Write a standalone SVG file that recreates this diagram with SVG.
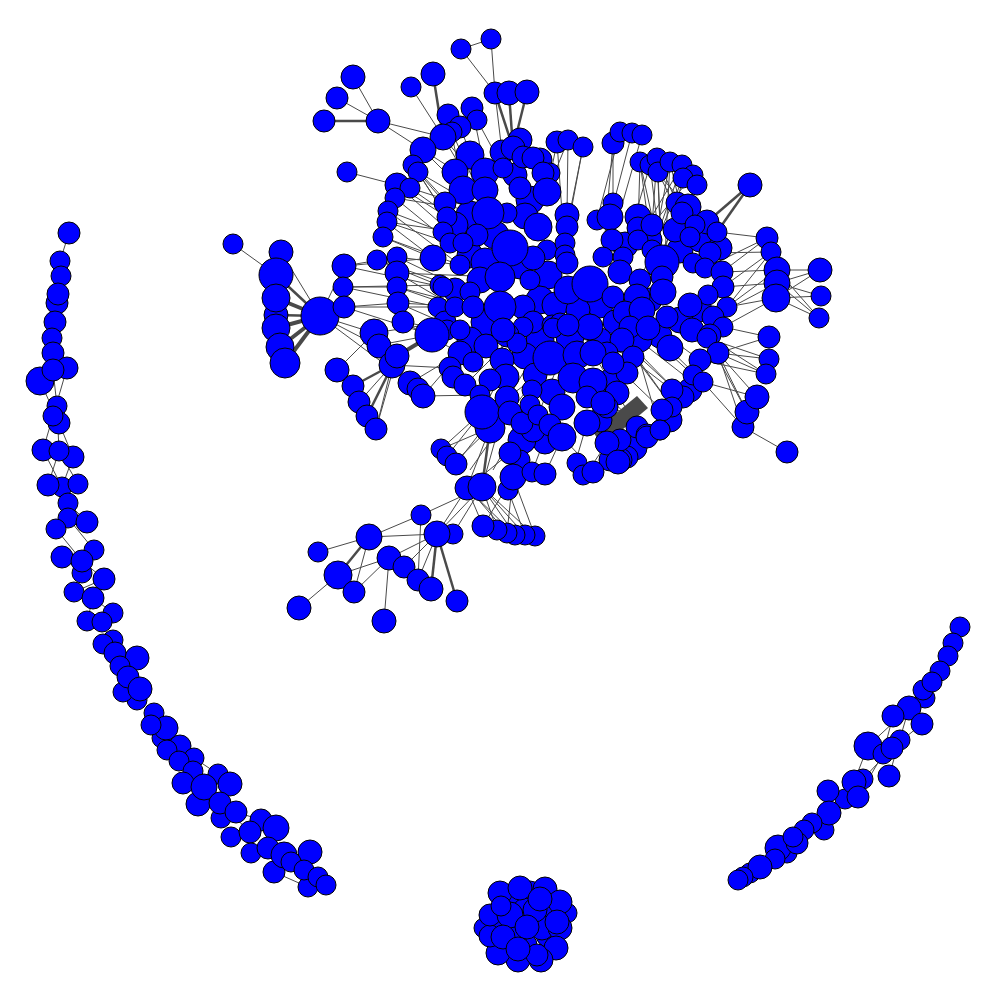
<svg xmlns="http://www.w3.org/2000/svg" width="1000" height="1000" viewBox="0 0 1000 1000">
<style>
circle{fill:#0000ff;stroke:#000;stroke-width:1}
#edges line{stroke:#4a4a4a;stroke-width:1}
#edges line.t{stroke-width:2.5}
#edges line.T{stroke-width:4}
#edges polygon{fill:#4a4a4a}
</style>
<rect width="1000" height="1000" fill="#fff"/>
<g id="edges">
<polygon points="593,432 637,396 648,408 603,446"/>
<line x1="69" y1="233" x2="60" y2="261"/><line x1="53" y1="370" x2="57" y2="406"/><line x1="40" y1="381" x2="59" y2="423"/><line x1="67" y1="368" x2="53" y2="416"/><line x1="53" y1="416" x2="43" y2="450"/><line x1="59" y1="423" x2="73" y2="457"/><line x1="57" y1="406" x2="59" y2="451"/><line x1="43" y1="450" x2="62" y2="487"/><line x1="59" y1="451" x2="48" y2="485"/><line x1="73" y1="457" x2="62" y2="487"/><line x1="59" y1="451" x2="78" y2="484"/><line x1="62" y1="487" x2="68" y2="518"/><line x1="68" y1="503" x2="87" y2="522"/><line x1="56" y1="529" x2="82" y2="561"/><line x1="68" y1="518" x2="94" y2="550"/><line x1="62" y1="557" x2="94" y2="550"/><line x1="62" y1="557" x2="82" y2="573"/><line x1="82" y1="561" x2="104" y2="579"/><line x1="74" y1="592" x2="104" y2="579"/><line x1="93" y1="598" x2="87" y2="621"/><line x1="93" y1="598" x2="113" y2="613"/><line x1="102" y1="622" x2="115" y2="653"/><line x1="115" y1="653" x2="137" y2="658"/><line x1="128" y1="677" x2="140" y2="689"/><line x1="166" y1="728" x2="180" y2="746"/><line x1="194" y1="758" x2="218" y2="774"/><line x1="220" y1="803" x2="250" y2="832"/><line x1="236" y1="812" x2="261" y2="820"/><line x1="261" y1="820" x2="284" y2="855"/><line x1="291" y1="862" x2="310" y2="852"/><line x1="274" y1="872" x2="308" y2="887"/>
<line x1="960" y1="627" x2="948" y2="656"/><line x1="909" y1="708" x2="868" y2="746"/><line x1="893" y1="716" x2="883" y2="754"/><line x1="922" y1="724" x2="892" y2="748"/><line x1="909" y1="708" x2="889" y2="776"/><line x1="868" y1="746" x2="854" y2="782"/><line x1="883" y1="754" x2="858" y2="797"/><line x1="892" y1="748" x2="863" y2="779"/><line x1="854" y1="782" x2="829" y2="813"/>
<line x1="233" y1="244" x2="276" y2="275"/><line x1="281" y1="252" x2="320" y2="316"/><line class="t" x1="276" y1="275" x2="320" y2="316"/><line class="T" x1="276" y1="298" x2="320" y2="316"/><line class="t" x1="276" y1="315" x2="320" y2="316"/><line class="T" x1="276" y1="328" x2="320" y2="316"/><line class="T" x1="280" y1="347" x2="320" y2="316"/><line class="T" x1="285" y1="363" x2="320" y2="316"/><line x1="320" y1="316" x2="344" y2="266"/><line x1="320" y1="316" x2="344" y2="307"/><line x1="320" y1="316" x2="374" y2="333"/><line x1="320" y1="316" x2="397" y2="356"/><line x1="320" y1="316" x2="410" y2="383"/>
<line x1="344" y1="266" x2="397" y2="257"/><line x1="344" y1="266" x2="433" y2="258"/><line x1="344" y1="266" x2="443" y2="287"/><line x1="343" y1="287" x2="397" y2="287"/><line x1="343" y1="287" x2="440" y2="285"/><line x1="343" y1="287" x2="438" y2="307"/><line x1="344" y1="307" x2="398" y2="303"/><line x1="344" y1="307" x2="438" y2="307"/><line x1="344" y1="307" x2="432" y2="335"/>
<line x1="347" y1="172" x2="397" y2="185"/><line x1="378" y1="121" x2="443" y2="137"/><line x1="378" y1="121" x2="423" y2="150"/><line class="t" x1="324" y1="121" x2="378" y2="121"/><line x1="337" y1="98" x2="378" y2="121"/><line x1="353" y1="77" x2="378" y2="121"/><line x1="411" y1="87" x2="443" y2="137"/><line class="t" x1="433" y1="74" x2="443" y2="137"/><line x1="461" y1="49" x2="491" y2="39"/><line x1="461" y1="49" x2="495" y2="93"/><line x1="491" y1="39" x2="495" y2="93"/><line class="t" x1="495" y1="93" x2="513" y2="148"/><line class="t" x1="509" y1="93" x2="513" y2="148"/><line class="t" x1="527" y1="92" x2="513" y2="148"/><line x1="495" y1="93" x2="502" y2="152"/>
<line x1="452" y1="132" x2="488" y2="213"/><line x1="460" y1="127" x2="485" y2="190"/><line x1="472" y1="108" x2="485" y2="170"/><line x1="448" y1="115" x2="463" y2="190"/><line x1="477" y1="120" x2="503" y2="168"/><line x1="443" y1="137" x2="488" y2="213"/><line x1="443" y1="137" x2="507" y2="213"/><line x1="423" y1="150" x2="485" y2="190"/><line x1="423" y1="150" x2="463" y2="190"/><line x1="418" y1="172" x2="488" y2="213"/><line x1="418" y1="172" x2="463" y2="243"/><line x1="413" y1="165" x2="477" y2="235"/><line x1="410" y1="188" x2="477" y2="235"/><line x1="410" y1="188" x2="488" y2="213"/><line x1="397" y1="185" x2="447" y2="217"/><line x1="397" y1="185" x2="463" y2="243"/><line x1="395" y1="198" x2="450" y2="243"/><line x1="395" y1="198" x2="488" y2="213"/><line x1="388" y1="211" x2="443" y2="232"/><line x1="388" y1="211" x2="460" y2="265"/><line x1="387" y1="222" x2="450" y2="243"/><line x1="387" y1="222" x2="477" y2="235"/><line x1="383" y1="237" x2="433" y2="258"/><line x1="383" y1="237" x2="460" y2="265"/><line x1="377" y1="260" x2="443" y2="287"/><line x1="377" y1="260" x2="470" y2="292"/><line x1="397" y1="257" x2="460" y2="265"/><line x1="397" y1="257" x2="470" y2="292"/><line x1="397" y1="273" x2="455" y2="307"/><line x1="397" y1="273" x2="500" y2="277"/><line x1="397" y1="287" x2="473" y2="307"/><line x1="397" y1="287" x2="455" y2="307"/><line x1="398" y1="303" x2="460" y2="330"/><line x1="398" y1="303" x2="473" y2="307"/><line x1="403" y1="322" x2="447" y2="330"/><line x1="403" y1="322" x2="460" y2="353"/><line x1="410" y1="383" x2="460" y2="353"/><line x1="423" y1="396" x2="460" y2="353"/><line x1="423" y1="396" x2="480" y2="395"/><line x1="392" y1="365" x2="450" y2="368"/><line class="T" x1="397" y1="356" x2="432" y2="335"/><line x1="379" y1="345" x2="432" y2="335"/><line x1="374" y1="333" x2="445" y2="322"/><line x1="386" y1="222" x2="433" y2="258"/><line x1="418" y1="172" x2="445" y2="203"/><line x1="413" y1="165" x2="447" y2="217"/>
<line x1="337" y1="370" x2="374" y2="333"/><line class="t" x1="353" y1="386" x2="392" y2="365"/><line x1="359" y1="402" x2="392" y2="365"/><line class="t" x1="367" y1="416" x2="397" y2="356"/><line x1="376" y1="429" x2="392" y2="365"/><line x1="376" y1="429" x2="397" y2="356"/><line x1="337" y1="370" x2="353" y2="386"/>
<line x1="613" y1="143" x2="603" y2="257"/><line x1="613" y1="143" x2="613" y2="203"/><line x1="620" y1="132" x2="597" y2="220"/><line x1="632" y1="133" x2="610" y2="217"/><line x1="642" y1="135" x2="612" y2="240"/><line x1="557" y1="142" x2="547" y2="192"/><line x1="568" y1="140" x2="567" y2="215"/><line x1="583" y1="147" x2="567" y2="227"/><line x1="568" y1="140" x2="547" y2="192"/><line x1="583" y1="147" x2="565" y2="243"/><line x1="557" y1="142" x2="565" y2="255"/>
<line x1="640" y1="162" x2="662" y2="262"/><line x1="640" y1="162" x2="652" y2="250"/><line x1="650" y1="165" x2="688" y2="207"/><line x1="650" y1="165" x2="662" y2="262"/><line x1="657" y1="158" x2="677" y2="203"/><line x1="657" y1="158" x2="652" y2="225"/><line x1="658" y1="172" x2="662" y2="277"/><line x1="658" y1="172" x2="690" y2="237"/><line x1="670" y1="162" x2="682" y2="213"/><line x1="670" y1="162" x2="663" y2="292"/><line x1="682" y1="165" x2="652" y2="250"/><line x1="682" y1="165" x2="638" y2="240"/><line x1="683" y1="178" x2="640" y2="280"/><line x1="683" y1="178" x2="662" y2="262"/><line x1="693" y1="175" x2="652" y2="225"/><line x1="693" y1="175" x2="690" y2="237"/><line x1="697" y1="185" x2="662" y2="262"/><line x1="697" y1="185" x2="637" y2="297"/><line x1="670" y1="162" x2="642" y2="310"/><line x1="657" y1="158" x2="663" y2="292"/><line x1="640" y1="162" x2="638" y2="228"/><line x1="650" y1="165" x2="623" y2="257"/>
<line class="t" x1="750" y1="185" x2="707" y2="222"/><line class="t" x1="750" y1="185" x2="717" y2="232"/>
<line x1="767" y1="238" x2="722" y2="272"/><line x1="767" y1="238" x2="717" y2="232"/><line x1="771" y1="252" x2="723" y2="287"/><line x1="771" y1="252" x2="710" y2="253"/><line x1="777" y1="270" x2="727" y2="307"/><line x1="777" y1="270" x2="722" y2="272"/><line x1="777" y1="283" x2="723" y2="287"/><line x1="777" y1="283" x2="713" y2="317"/><line x1="776" y1="298" x2="727" y2="307"/><line x1="776" y1="298" x2="723" y2="327"/><line x1="767" y1="238" x2="705" y2="268"/><line x1="771" y1="252" x2="727" y2="307"/><line x1="777" y1="270" x2="820" y2="270"/><line x1="777" y1="283" x2="820" y2="270"/><line x1="776" y1="298" x2="821" y2="296"/><line x1="777" y1="270" x2="819" y2="318"/><line x1="776" y1="298" x2="819" y2="318"/><line x1="777" y1="283" x2="821" y2="296"/><line x1="776" y1="298" x2="820" y2="270"/><line x1="777" y1="283" x2="819" y2="318"/>
<line x1="769" y1="337" x2="718" y2="353"/><line x1="769" y1="359" x2="707" y2="338"/><line x1="769" y1="359" x2="718" y2="353"/><line x1="766" y1="374" x2="700" y2="360"/><line x1="766" y1="374" x2="718" y2="353"/><line x1="757" y1="397" x2="718" y2="353"/><line x1="757" y1="397" x2="703" y2="382"/><line x1="747" y1="412" x2="718" y2="353"/><line x1="747" y1="412" x2="707" y2="338"/><line x1="743" y1="427" x2="703" y2="382"/><line x1="743" y1="427" x2="718" y2="353"/><line x1="743" y1="427" x2="787" y2="452"/><line x1="769" y1="337" x2="723" y2="327"/><line x1="766" y1="374" x2="713" y2="340"/>
<line x1="577" y1="355" x2="620" y2="440"/><line x1="593" y1="353" x2="637" y2="427"/><line x1="590" y1="327" x2="672" y2="390"/><line x1="613" y1="363" x2="662" y2="410"/><line x1="630" y1="327" x2="660" y2="430"/><line x1="593" y1="382" x2="647" y2="435"/><line x1="610" y1="330" x2="683" y2="397"/><line x1="600" y1="310" x2="672" y2="407"/><line x1="625" y1="313" x2="693" y2="375"/><line x1="613" y1="297" x2="700" y2="360"/><line x1="648" y1="328" x2="703" y2="382"/><line x1="590" y1="300" x2="670" y2="348"/><line x1="573" y1="378" x2="627" y2="457"/><line x1="587" y1="397" x2="618" y2="462"/><line x1="603" y1="403" x2="660" y2="430"/><line x1="560" y1="323" x2="622" y2="340"/><line x1="553" y1="328" x2="633" y2="357"/><line x1="636" y1="350" x2="680" y2="395"/><line x1="640" y1="362" x2="672" y2="407"/><line x1="645" y1="345" x2="690" y2="380"/>
<line x1="550" y1="358" x2="510" y2="413"/><line x1="550" y1="358" x2="532" y2="390"/><line x1="560" y1="360" x2="538" y2="415"/><line x1="545" y1="370" x2="507" y2="398"/><line x1="570" y1="370" x2="550" y2="425"/><line x1="517" y1="343" x2="482" y2="412"/><line x1="507" y1="335" x2="480" y2="395"/><line x1="523" y1="327" x2="465" y2="385"/><line x1="540" y1="345" x2="490" y2="428"/>
<line x1="421" y1="515" x2="482" y2="487"/><line x1="437" y1="534" x2="482" y2="487"/><line x1="369" y1="537" x2="421" y2="515"/><line x1="369" y1="537" x2="437" y2="534"/><line x1="318" y1="552" x2="369" y2="537"/><line class="t" x1="338" y1="575" x2="369" y2="537"/><line x1="338" y1="575" x2="389" y2="558"/><line x1="299" y1="608" x2="338" y2="575"/><line x1="354" y1="592" x2="369" y2="537"/><line x1="384" y1="621" x2="389" y2="558"/><line x1="389" y1="558" x2="437" y2="534"/><line x1="404" y1="567" x2="437" y2="534"/><line x1="418" y1="580" x2="437" y2="534"/><line class="t" x1="431" y1="589" x2="437" y2="534"/><line class="t" x1="457" y1="601" x2="437" y2="534"/><line x1="437" y1="534" x2="467" y2="488"/><line x1="453" y1="534" x2="482" y2="487"/><line x1="354" y1="592" x2="389" y2="558"/><line x1="418" y1="580" x2="421" y2="515"/>
<line x1="483" y1="526" x2="513" y2="477"/><line x1="497" y1="530" x2="482" y2="487"/><line x1="507" y1="533" x2="513" y2="477"/><line x1="515" y1="535" x2="482" y2="487"/><line x1="525" y1="535" x2="508" y2="490"/><line x1="535" y1="536" x2="513" y2="477"/><line x1="535" y1="536" x2="482" y2="487"/><line x1="483" y1="526" x2="467" y2="488"/><line x1="525" y1="535" x2="482" y2="487"/><line x1="515" y1="535" x2="467" y2="488"/><line x1="507" y1="533" x2="470" y2="490"/>
<line class="t" x1="482" y1="487" x2="490" y2="428"/><line x1="441" y1="449" x2="490" y2="428"/><line x1="447" y1="456" x2="482" y2="412"/><line x1="455" y1="462" x2="490" y2="428"/><line x1="441" y1="449" x2="482" y2="412"/><line x1="508" y1="490" x2="510" y2="453"/><line x1="532" y1="472" x2="550" y2="425"/><line x1="545" y1="474" x2="562" y2="437"/><line x1="467" y1="488" x2="510" y2="453"/><line x1="482" y1="487" x2="507" y2="398"/><line x1="467" y1="488" x2="490" y2="428"/><line x1="513" y1="477" x2="522" y2="423"/><line x1="520" y1="460" x2="538" y2="415"/><line x1="493" y1="470" x2="530" y2="405"/><line x1="470" y1="470" x2="510" y2="413"/><line x1="456" y1="464" x2="507" y2="398"/>
<line x1="575" y1="464" x2="587" y2="423"/><line x1="584" y1="477" x2="607" y2="443"/><line x1="595" y1="472" x2="562" y2="437"/>
</g>
<g id="nodes">
<g id="n404"><circle cx="470" cy="155" r="14"/></g>
<g id="n405"><circle cx="455" cy="172" r="13"/></g>
<g id="n406"><circle cx="530" cy="200" r="14"/></g>
<g id="n407"><circle cx="515" cy="175" r="12"/></g>
<g id="n408"><circle cx="470" cy="215" r="14"/></g>
<g id="n409"><circle cx="455" cy="225" r="13"/></g>
<g id="n410"><circle cx="525" cy="216" r="13"/></g>
<g id="n411"><circle cx="495" cy="235" r="14"/></g>
<g id="n412"><circle cx="470" cy="255" r="13"/></g>
<g id="n413"><circle cx="485" cy="262" r="14"/></g>
<g id="n414"><circle cx="548" cy="275" r="14"/></g>
<g id="n415"><circle cx="520" cy="266" r="13"/></g>
<g id="n416"><circle cx="480" cy="280" r="13"/></g>
<g id="n417"><circle cx="455" cy="290" r="12"/></g>
<g id="n418"><circle cx="485" cy="322" r="14"/></g>
<g id="n419"><circle cx="540" cy="300" r="14"/></g>
<g id="n420"><circle cx="555" cy="305" r="13"/></g>
<g id="n421"><circle cx="470" cy="340" r="13"/></g>
<g id="n422"><circle cx="486" cy="346" r="12"/></g>
<g id="n423"><circle cx="540" cy="340" r="14"/></g>
<g id="n424"><circle cx="525" cy="356" r="13"/></g>
<g id="n425"><circle cx="502" cy="360" r="12"/></g>
<g id="n426"><circle cx="506" cy="377" r="13"/></g>
<g id="n427"><circle cx="535" cy="375" r="12"/></g>
<g id="n428"><circle cx="490" cy="380" r="11"/></g>
<g id="n429"><circle cx="552" cy="392" r="13"/></g>
<g id="n430"><circle cx="562" cy="407" r="13"/></g>
<g id="n431"><circle cx="545" cy="442" r="12"/></g>
<g id="n432"><circle cx="522" cy="440" r="14"/></g>
<g id="n433"><circle cx="533" cy="430" r="12"/></g>
<g id="n434"><circle cx="625" cy="245" r="13"/></g>
<g id="n435"><circle cx="650" cy="240" r="12"/></g>
<g id="n436"><circle cx="680" cy="250" r="13"/></g>
<g id="n437"><circle cx="700" cy="240" r="12"/></g>
<g id="n438"><circle cx="675" cy="230" r="12"/></g>
<g id="n439"><circle cx="720" cy="248" r="12"/></g>
<g id="n440"><circle cx="600" cy="305" r="13"/></g>
<g id="n441"><circle cx="615" cy="322" r="12"/></g>
<g id="n442"><circle cx="650" cy="300" r="12"/></g>
<g id="n443"><circle cx="700" cy="310" r="12"/></g>
<g id="n444"><circle cx="680" cy="320" r="13"/></g>
<g id="n445"><circle cx="660" cy="336" r="12"/></g>
<g id="n446"><circle cx="640" cy="340" r="12"/></g>
<g id="n447"><circle cx="600" cy="340" r="12"/></g>
<g id="n448"><circle cx="578" cy="310" r="12"/></g>
<g id="n449"><circle cx="610" cy="382" r="13"/></g>
<g id="n450"><circle cx="600" cy="420" r="12"/></g>
<g id="n451"><circle cx="690" cy="390" r="12"/></g>
<g id="n452"><circle cx="670" cy="420" r="12"/></g>
<g id="n453"><circle cx="635" cy="448" r="12"/></g>
<g id="n454"><circle cx="520" cy="140" r="12"/></g>
<g id="n455"><circle cx="540" cy="160" r="12"/></g>
<g id="n456"><circle cx="512" cy="900" r="12"/></g>
<g id="n457"><circle cx="530" cy="893" r="12"/></g>
<g id="n458"><circle cx="548" cy="912" r="12"/></g>
<g id="n459"><circle cx="548" cy="935" r="12"/></g>
<g id="n460"><circle cx="525" cy="945" r="12"/></g>
<g id="n461"><circle cx="505" cy="925" r="12"/></g>
<g id="n462"><circle cx="495" cy="922" r="12"/></g>
<g id="n463"><circle cx="542" cy="928" r="12"/></g>
<g id="n464"><circle cx="515" cy="935" r="12"/></g>
<g id="n465"><circle cx="567" cy="913" r="10"/></g>
<g id="n466"><circle cx="484" cy="928" r="10"/></g>
<g id="n467"><circle cx="525" cy="910" r="12"/></g>
<g id="n1"><circle cx="69" cy="233" r="11"/></g>
<g id="n2"><circle cx="60" cy="261" r="10"/></g>
<g id="n3"><circle cx="61" cy="276" r="10"/></g>
<g id="n4"><circle cx="57" cy="303" r="11"/></g>
<g id="n5"><circle cx="58" cy="294" r="11"/></g>
<g id="n6"><circle cx="55" cy="322" r="11"/></g>
<g id="n7"><circle cx="52" cy="338" r="10"/></g>
<g id="n8"><circle cx="53" cy="353" r="11"/></g>
<g id="n9"><circle cx="40" cy="381" r="14"/></g>
<g id="n10"><circle cx="67" cy="368" r="11"/></g>
<g id="n11"><circle cx="53" cy="370" r="11"/></g>
<g id="n12"><circle cx="57" cy="406" r="10"/></g>
<g id="n13"><circle cx="59" cy="423" r="11"/></g>
<g id="n14"><circle cx="53" cy="416" r="10"/></g>
<g id="n15"><circle cx="43" cy="450" r="11"/></g>
<g id="n16"><circle cx="73" cy="457" r="11"/></g>
<g id="n17"><circle cx="59" cy="451" r="10"/></g>
<g id="n18"><circle cx="62" cy="487" r="10"/></g>
<g id="n19"><circle cx="48" cy="485" r="11"/></g>
<g id="n20"><circle cx="78" cy="484" r="10"/></g>
<g id="n21"><circle cx="68" cy="503" r="10"/></g>
<g id="n22"><circle cx="68" cy="518" r="10"/></g>
<g id="n23"><circle cx="87" cy="522" r="11"/></g>
<g id="n24"><circle cx="56" cy="529" r="10"/></g>
<g id="n25"><circle cx="94" cy="550" r="10"/></g>
<g id="n26"><circle cx="82" cy="573" r="10"/></g>
<g id="n27"><circle cx="62" cy="557" r="11"/></g>
<g id="n28"><circle cx="82" cy="561" r="11"/></g>
<g id="n29"><circle cx="104" cy="579" r="11"/></g>
<g id="n30"><circle cx="74" cy="592" r="10"/></g>
<g id="n31"><circle cx="93" cy="598" r="11"/></g>
<g id="n32"><circle cx="113" cy="613" r="10"/></g>
<g id="n33"><circle cx="87" cy="621" r="10"/></g>
<g id="n34"><circle cx="102" cy="622" r="10"/></g>
<g id="n35"><circle cx="113" cy="640" r="10"/></g>
<g id="n36"><circle cx="103" cy="644" r="10"/></g>
<g id="n37"><circle cx="137" cy="658" r="12"/></g>
<g id="n38"><circle cx="115" cy="653" r="11"/></g>
<g id="n39"><circle cx="120" cy="666" r="10"/></g>
<g id="n40"><circle cx="137" cy="700" r="10"/></g>
<g id="n41"><circle cx="123" cy="692" r="10"/></g>
<g id="n42"><circle cx="128" cy="677" r="11"/></g>
<g id="n43"><circle cx="140" cy="689" r="12"/></g>
<g id="n44"><circle cx="154" cy="713" r="10"/></g>
<g id="n45"><circle cx="162" cy="738" r="10"/></g>
<g id="n46"><circle cx="166" cy="728" r="12"/></g>
<g id="n47"><circle cx="151" cy="725" r="10"/></g>
<g id="n48"><circle cx="180" cy="746" r="11"/></g>
<g id="n49"><circle cx="167" cy="750" r="10"/></g>
<g id="n50"><circle cx="194" cy="758" r="10"/></g>
<g id="n51"><circle cx="179" cy="761" r="10"/></g>
<g id="n52"><circle cx="193" cy="771" r="10"/></g>
<g id="n53"><circle cx="218" cy="774" r="10"/></g>
<g id="n54"><circle cx="183" cy="783" r="11"/></g>
<g id="n55"><circle cx="198" cy="804" r="12"/></g>
<g id="n56"><circle cx="204" cy="787" r="13"/></g>
<g id="n57"><circle cx="230" cy="784" r="12"/></g>
<g id="n58"><circle cx="221" cy="818" r="10"/></g>
<g id="n59"><circle cx="220" cy="803" r="11"/></g>
<g id="n60"><circle cx="236" cy="812" r="11"/></g>
<g id="n61"><circle cx="231" cy="837" r="10"/></g>
<g id="n62"><circle cx="261" cy="820" r="11"/></g>
<g id="n63"><circle cx="250" cy="832" r="11"/></g>
<g id="n64"><circle cx="276" cy="828" r="13"/></g>
<g id="n65"><circle cx="251" cy="853" r="10"/></g>
<g id="n66"><circle cx="268" cy="848" r="11"/></g>
<g id="n67"><circle cx="274" cy="872" r="11"/></g>
<g id="n68"><circle cx="284" cy="855" r="13"/></g>
<g id="n69"><circle cx="310" cy="852" r="12"/></g>
<g id="n70"><circle cx="291" cy="862" r="10"/></g>
<g id="n71"><circle cx="308" cy="887" r="10"/></g>
<g id="n72"><circle cx="304" cy="870" r="10"/></g>
<g id="n73"><circle cx="318" cy="877" r="10"/></g>
<g id="n74"><circle cx="326" cy="885" r="10"/></g>
<g id="n75"><circle cx="960" cy="627" r="10"/></g>
<g id="n76"><circle cx="953" cy="643" r="10"/></g>
<g id="n77"><circle cx="948" cy="656" r="10"/></g>
<g id="n78"><circle cx="940" cy="671" r="10"/></g>
<g id="n79"><circle cx="925" cy="698" r="10"/></g>
<g id="n80"><circle cx="923" cy="690" r="10"/></g>
<g id="n81"><circle cx="932" cy="682" r="10"/></g>
<g id="n82"><circle cx="909" cy="708" r="12"/></g>
<g id="n83"><circle cx="922" cy="724" r="11"/></g>
<g id="n84"><circle cx="893" cy="716" r="11"/></g>
<g id="n85"><circle cx="900" cy="740" r="10"/></g>
<g id="n86"><circle cx="868" cy="746" r="14"/></g>
<g id="n87"><circle cx="883" cy="754" r="10"/></g>
<g id="n88"><circle cx="892" cy="748" r="11"/></g>
<g id="n89"><circle cx="889" cy="776" r="11"/></g>
<g id="n90"><circle cx="863" cy="779" r="10"/></g>
<g id="n91"><circle cx="845" cy="799" r="10"/></g>
<g id="n92"><circle cx="828" cy="791" r="11"/></g>
<g id="n93"><circle cx="854" cy="782" r="12"/></g>
<g id="n94"><circle cx="858" cy="797" r="11"/></g>
<g id="n95"><circle cx="824" cy="830" r="10"/></g>
<g id="n96"><circle cx="829" cy="813" r="12"/></g>
<g id="n97"><circle cx="812" cy="823" r="10"/></g>
<g id="n98"><circle cx="804" cy="830" r="10"/></g>
<g id="n99"><circle cx="787" cy="853" r="10"/></g>
<g id="n100"><circle cx="778" cy="848" r="13"/></g>
<g id="n101"><circle cx="797" cy="843" r="11"/></g>
<g id="n102"><circle cx="793" cy="837" r="10"/></g>
<g id="n103"><circle cx="775" cy="859" r="10"/></g>
<g id="n104"><circle cx="750" cy="873" r="10"/></g>
<g id="n105"><circle cx="760" cy="867" r="12"/></g>
<g id="n106"><circle cx="743" cy="877" r="10"/></g>
<g id="n107"><circle cx="738" cy="880" r="10"/></g>
<g id="n108"><circle cx="500" cy="893" r="12"/></g>
<g id="n109"><circle cx="520" cy="888" r="12"/></g>
<g id="n110"><circle cx="545" cy="889" r="12"/></g>
<g id="n111"><circle cx="560" cy="902" r="12"/></g>
<g id="n112"><circle cx="560" cy="928" r="12"/></g>
<g id="n113"><circle cx="556" cy="948" r="12"/></g>
<g id="n114"><circle cx="541" cy="960" r="12"/></g>
<g id="n115"><circle cx="518" cy="960" r="12"/></g>
<g id="n116"><circle cx="498" cy="953" r="12"/></g>
<g id="n117"><circle cx="490" cy="936" r="11"/></g>
<g id="n118"><circle cx="490" cy="915" r="11"/></g>
<g id="n119"><circle cx="510" cy="915" r="13"/></g>
<g id="n120"><circle cx="535" cy="910" r="12"/></g>
<g id="n121"><circle cx="501" cy="906" r="10"/></g>
<g id="n122"><circle cx="540" cy="899" r="12"/></g>
<g id="n123"><circle cx="503" cy="937" r="12"/></g>
<g id="n124"><circle cx="557" cy="922" r="12"/></g>
<g id="n125"><circle cx="527" cy="927" r="12"/></g>
<g id="n126"><circle cx="537" cy="955" r="11"/></g>
<g id="n127"><circle cx="518" cy="949" r="12"/></g>
<g id="n128"><circle cx="318" cy="552" r="10"/></g>
<g id="n129"><circle cx="338" cy="575" r="14"/></g>
<g id="n130"><circle cx="299" cy="608" r="12"/></g>
<g id="n131"><circle cx="354" cy="592" r="11"/></g>
<g id="n132"><circle cx="369" cy="537" r="13"/></g>
<g id="n133"><circle cx="389" cy="558" r="12"/></g>
<g id="n134"><circle cx="404" cy="567" r="11"/></g>
<g id="n135"><circle cx="418" cy="580" r="11"/></g>
<g id="n136"><circle cx="431" cy="589" r="12"/></g>
<g id="n137"><circle cx="457" cy="601" r="11"/></g>
<g id="n138"><circle cx="384" cy="621" r="12"/></g>
<g id="n139"><circle cx="421" cy="515" r="10"/></g>
<g id="n140"><circle cx="453" cy="534" r="10"/></g>
<g id="n141"><circle cx="437" cy="534" r="13"/></g>
<g id="n142"><circle cx="535" cy="536" r="10"/></g>
<g id="n143"><circle cx="525" cy="535" r="10"/></g>
<g id="n144"><circle cx="515" cy="535" r="10"/></g>
<g id="n145"><circle cx="507" cy="533" r="10"/></g>
<g id="n146"><circle cx="497" cy="530" r="10"/></g>
<g id="n147"><circle cx="483" cy="526" r="11"/></g>
<g id="n148"><circle cx="508" cy="490" r="10"/></g>
<g id="n149"><circle cx="467" cy="488" r="12"/></g>
<g id="n150"><circle cx="482" cy="487" r="14"/></g>
<g id="n151"><circle cx="520" cy="460" r="10"/></g>
<g id="n152"><circle cx="510" cy="453" r="11"/></g>
<g id="n153"><circle cx="513" cy="477" r="13"/></g>
<g id="n154"><circle cx="532" cy="472" r="10"/></g>
<g id="n155"><circle cx="545" cy="474" r="11"/></g>
<g id="n156"><circle cx="441" cy="449" r="10"/></g>
<g id="n157"><circle cx="447" cy="456" r="10"/></g>
<g id="n158"><circle cx="456" cy="464" r="11"/></g>
<g id="n159"><circle cx="233" cy="244" r="10"/></g>
<g id="n160"><circle cx="281" cy="252" r="12"/></g>
<g id="n161"><circle cx="276" cy="275" r="17"/></g>
<g id="n162"><circle cx="276" cy="315" r="12"/></g>
<g id="n163"><circle cx="276" cy="298" r="14"/></g>
<g id="n164"><circle cx="276" cy="328" r="14"/></g>
<g id="n165"><circle cx="280" cy="347" r="14"/></g>
<g id="n166"><circle cx="285" cy="363" r="15"/></g>
<g id="n167"><circle cx="320" cy="316" r="19"/></g>
<g id="n168"><circle cx="344" cy="266" r="12"/></g>
<g id="n169"><circle cx="343" cy="287" r="10"/></g>
<g id="n170"><circle cx="344" cy="307" r="11"/></g>
<g id="n171"><circle cx="337" cy="370" r="12"/></g>
<g id="n172"><circle cx="374" cy="333" r="14"/></g>
<g id="n173"><circle cx="379" cy="346" r="12"/></g>
<g id="n174"><circle cx="392" cy="365" r="13"/></g>
<g id="n175"><circle cx="397" cy="356" r="12"/></g>
<g id="n176"><circle cx="353" cy="386" r="11"/></g>
<g id="n177"><circle cx="359" cy="402" r="11"/></g>
<g id="n178"><circle cx="367" cy="416" r="11"/></g>
<g id="n179"><circle cx="376" cy="429" r="11"/></g>
<g id="n180"><circle cx="410" cy="383" r="12"/></g>
<g id="n181"><circle cx="418" cy="389" r="11"/></g>
<g id="n182"><circle cx="423" cy="396" r="12"/></g>
<g id="n183"><circle cx="461" cy="49" r="10"/></g>
<g id="n184"><circle cx="491" cy="39" r="10"/></g>
<g id="n185"><circle cx="495" cy="93" r="11"/></g>
<g id="n186"><circle cx="509" cy="93" r="12"/></g>
<g id="n187"><circle cx="527" cy="92" r="12"/></g>
<g id="n188"><circle cx="353" cy="77" r="12"/></g>
<g id="n189"><circle cx="337" cy="98" r="11"/></g>
<g id="n190"><circle cx="324" cy="121" r="11"/></g>
<g id="n191"><circle cx="378" cy="121" r="12"/></g>
<g id="n192"><circle cx="411" cy="87" r="10"/></g>
<g id="n193"><circle cx="433" cy="74" r="12"/></g>
<g id="n194"><circle cx="347" cy="172" r="10"/></g>
<g id="n195"><circle cx="448" cy="115" r="11"/></g>
<g id="n196"><circle cx="472" cy="108" r="11"/></g>
<g id="n197"><circle cx="477" cy="120" r="10"/></g>
<g id="n198"><circle cx="460" cy="127" r="11"/></g>
<g id="n199"><circle cx="452" cy="132" r="10"/></g>
<g id="n200"><circle cx="443" cy="137" r="13"/></g>
<g id="n201"><circle cx="423" cy="150" r="13"/></g>
<g id="n202"><circle cx="413" cy="165" r="10"/></g>
<g id="n203"><circle cx="418" cy="172" r="10"/></g>
<g id="n204"><circle cx="397" cy="185" r="12"/></g>
<g id="n205"><circle cx="410" cy="188" r="10"/></g>
<g id="n206"><circle cx="395" cy="198" r="10"/></g>
<g id="n207"><circle cx="388" cy="211" r="10"/></g>
<g id="n208"><circle cx="387" cy="222" r="10"/></g>
<g id="n209"><circle cx="383" cy="237" r="10"/></g>
<g id="n210"><circle cx="377" cy="260" r="10"/></g>
<g id="n211"><circle cx="397" cy="257" r="10"/></g>
<g id="n212"><circle cx="397" cy="273" r="12"/></g>
<g id="n213"><circle cx="397" cy="287" r="10"/></g>
<g id="n214"><circle cx="398" cy="303" r="11"/></g>
<g id="n215"><circle cx="403" cy="322" r="11"/></g>
<g id="n216"><circle cx="433" cy="258" r="13"/></g>
<g id="n217"><circle cx="440" cy="285" r="10"/></g>
<g id="n218"><circle cx="438" cy="307" r="10"/></g>
<g id="n219"><circle cx="445" cy="322" r="11"/></g>
<g id="n220"><circle cx="447" cy="330" r="10"/></g>
<g id="n221"><circle cx="460" cy="330" r="10"/></g>
<g id="n222"><circle cx="432" cy="335" r="17"/></g>
<g id="n223"><circle cx="460" cy="353" r="12"/></g>
<g id="n224"><circle cx="473" cy="362" r="10"/></g>
<g id="n225"><circle cx="450" cy="368" r="11"/></g>
<g id="n226"><circle cx="453" cy="377" r="11"/></g>
<g id="n227"><circle cx="465" cy="385" r="11"/></g>
<g id="n228"><circle cx="480" cy="395" r="10"/></g>
<g id="n229"><circle cx="490" cy="428" r="15"/></g>
<g id="n230"><circle cx="482" cy="412" r="17"/></g>
<g id="n231"><circle cx="502" cy="152" r="12"/></g>
<g id="n232"><circle cx="513" cy="148" r="12"/></g>
<g id="n233"><circle cx="523" cy="157" r="11"/></g>
<g id="n234"><circle cx="533" cy="158" r="11"/></g>
<g id="n235"><circle cx="550" cy="173" r="10"/></g>
<g id="n236"><circle cx="543" cy="173" r="11"/></g>
<g id="n237"><circle cx="557" cy="142" r="11"/></g>
<g id="n238"><circle cx="568" cy="140" r="10"/></g>
<g id="n239"><circle cx="583" cy="147" r="10"/></g>
<g id="n240"><circle cx="490" cy="170" r="10"/></g>
<g id="n241"><circle cx="485" cy="172" r="14"/></g>
<g id="n242"><circle cx="503" cy="168" r="10"/></g>
<g id="n243"><circle cx="463" cy="190" r="14"/></g>
<g id="n244"><circle cx="485" cy="190" r="13"/></g>
<g id="n245"><circle cx="520" cy="188" r="11"/></g>
<g id="n246"><circle cx="547" cy="192" r="14"/></g>
<g id="n247"><circle cx="445" cy="203" r="11"/></g>
<g id="n248"><circle cx="447" cy="217" r="10"/></g>
<g id="n249"><circle cx="507" cy="213" r="10"/></g>
<g id="n250"><circle cx="488" cy="213" r="16"/></g>
<g id="n251"><circle cx="567" cy="215" r="12"/></g>
<g id="n252"><circle cx="538" cy="227" r="14"/></g>
<g id="n253"><circle cx="567" cy="227" r="11"/></g>
<g id="n254"><circle cx="443" cy="232" r="10"/></g>
<g id="n255"><circle cx="450" cy="243" r="10"/></g>
<g id="n256"><circle cx="477" cy="235" r="11"/></g>
<g id="n257"><circle cx="463" cy="243" r="10"/></g>
<g id="n258"><circle cx="547" cy="250" r="10"/></g>
<g id="n259"><circle cx="565" cy="243" r="10"/></g>
<g id="n260"><circle cx="565" cy="255" r="10"/></g>
<g id="n261"><circle cx="567" cy="263" r="11"/></g>
<g id="n262"><circle cx="533" cy="258" r="12"/></g>
<g id="n263"><circle cx="510" cy="248" r="18"/></g>
<g id="n264"><circle cx="460" cy="265" r="10"/></g>
<g id="n265"><circle cx="530" cy="280" r="10"/></g>
<g id="n266"><circle cx="500" cy="277" r="15"/></g>
<g id="n267"><circle cx="443" cy="287" r="10"/></g>
<g id="n268"><circle cx="470" cy="292" r="10"/></g>
<g id="n269"><circle cx="568" cy="290" r="14"/></g>
<g id="n270"><circle cx="455" cy="307" r="10"/></g>
<g id="n271"><circle cx="473" cy="307" r="11"/></g>
<g id="n272"><circle cx="523" cy="307" r="12"/></g>
<g id="n273"><circle cx="500" cy="307" r="16"/></g>
<g id="n274"><circle cx="533" cy="322" r="11"/></g>
<g id="n275"><circle cx="552" cy="325" r="10"/></g>
<g id="n276"><circle cx="560" cy="323" r="10"/></g>
<g id="n277"><circle cx="523" cy="327" r="10"/></g>
<g id="n278"><circle cx="507" cy="335" r="12"/></g>
<g id="n279"><circle cx="517" cy="343" r="10"/></g>
<g id="n280"><circle cx="503" cy="330" r="12"/></g>
<g id="n281"><circle cx="570" cy="337" r="14"/></g>
<g id="n282"><circle cx="613" cy="143" r="11"/></g>
<g id="n283"><circle cx="620" cy="132" r="10"/></g>
<g id="n284"><circle cx="632" cy="133" r="10"/></g>
<g id="n285"><circle cx="642" cy="135" r="10"/></g>
<g id="n286"><circle cx="640" cy="162" r="10"/></g>
<g id="n287"><circle cx="650" cy="165" r="10"/></g>
<g id="n288"><circle cx="657" cy="158" r="10"/></g>
<g id="n289"><circle cx="658" cy="172" r="10"/></g>
<g id="n290"><circle cx="670" cy="162" r="10"/></g>
<g id="n291"><circle cx="682" cy="165" r="10"/></g>
<g id="n292"><circle cx="693" cy="175" r="10"/></g>
<g id="n293"><circle cx="683" cy="178" r="10"/></g>
<g id="n294"><circle cx="697" cy="185" r="10"/></g>
<g id="n295"><circle cx="750" cy="185" r="12"/></g>
<g id="n296"><circle cx="613" cy="203" r="10"/></g>
<g id="n297"><circle cx="597" cy="220" r="10"/></g>
<g id="n298"><circle cx="610" cy="217" r="13"/></g>
<g id="n299"><circle cx="638" cy="217" r="13"/></g>
<g id="n300"><circle cx="638" cy="228" r="11"/></g>
<g id="n301"><circle cx="652" cy="225" r="11"/></g>
<g id="n302"><circle cx="677" cy="203" r="11"/></g>
<g id="n303"><circle cx="688" cy="207" r="13"/></g>
<g id="n304"><circle cx="682" cy="213" r="11"/></g>
<g id="n305"><circle cx="707" cy="222" r="12"/></g>
<g id="n306"><circle cx="695" cy="225" r="10"/></g>
<g id="n307"><circle cx="717" cy="232" r="10"/></g>
<g id="n308"><circle cx="612" cy="240" r="11"/></g>
<g id="n309"><circle cx="638" cy="240" r="10"/></g>
<g id="n310"><circle cx="690" cy="237" r="10"/></g>
<g id="n311"><circle cx="603" cy="257" r="10"/></g>
<g id="n312"><circle cx="623" cy="257" r="10"/></g>
<g id="n313"><circle cx="652" cy="250" r="10"/></g>
<g id="n314"><circle cx="710" cy="253" r="11"/></g>
<g id="n315"><circle cx="693" cy="263" r="10"/></g>
<g id="n316"><circle cx="705" cy="268" r="10"/></g>
<g id="n317"><circle cx="722" cy="272" r="11"/></g>
<g id="n318"><circle cx="723" cy="287" r="11"/></g>
<g id="n319"><circle cx="662" cy="262" r="17"/></g>
<g id="n320"><circle cx="620" cy="272" r="12"/></g>
<g id="n321"><circle cx="640" cy="280" r="11"/></g>
<g id="n322"><circle cx="662" cy="277" r="11"/></g>
<g id="n323"><circle cx="590" cy="284" r="18"/></g>
<g id="n324"><circle cx="613" cy="297" r="11"/></g>
<g id="n325"><circle cx="637" cy="297" r="13"/></g>
<g id="n326"><circle cx="663" cy="292" r="13"/></g>
<g id="n327"><circle cx="708" cy="295" r="10"/></g>
<g id="n328"><circle cx="690" cy="305" r="12"/></g>
<g id="n329"><circle cx="727" cy="307" r="10"/></g>
<g id="n330"><circle cx="713" cy="317" r="11"/></g>
<g id="n331"><circle cx="625" cy="313" r="12"/></g>
<g id="n332"><circle cx="642" cy="310" r="13"/></g>
<g id="n333"><circle cx="667" cy="317" r="11"/></g>
<g id="n334"><circle cx="590" cy="327" r="13"/></g>
<g id="n335"><circle cx="630" cy="327" r="11"/></g>
<g id="n336"><circle cx="648" cy="328" r="12"/></g>
<g id="n337"><circle cx="723" cy="327" r="10"/></g>
<g id="n338"><circle cx="692" cy="330" r="12"/></g>
<g id="n339"><circle cx="710" cy="335" r="11"/></g>
<g id="n340"><circle cx="767" cy="238" r="11"/></g>
<g id="n341"><circle cx="771" cy="252" r="10"/></g>
<g id="n342"><circle cx="777" cy="270" r="13"/></g>
<g id="n343"><circle cx="777" cy="283" r="13"/></g>
<g id="n344"><circle cx="776" cy="298" r="14"/></g>
<g id="n345"><circle cx="820" cy="270" r="12"/></g>
<g id="n346"><circle cx="821" cy="296" r="10"/></g>
<g id="n347"><circle cx="819" cy="318" r="10"/></g>
<g id="n348"><circle cx="769" cy="337" r="11"/></g>
<g id="n349"><circle cx="769" cy="359" r="10"/></g>
<g id="n350"><circle cx="766" cy="374" r="10"/></g>
<g id="n351"><circle cx="743" cy="427" r="11"/></g>
<g id="n352"><circle cx="747" cy="412" r="12"/></g>
<g id="n353"><circle cx="757" cy="397" r="12"/></g>
<g id="n354"><circle cx="787" cy="452" r="11"/></g>
<g id="n355"><circle cx="707" cy="338" r="10"/></g>
<g id="n356"><circle cx="718" cy="353" r="11"/></g>
<g id="n357"><circle cx="700" cy="360" r="11"/></g>
<g id="n358"><circle cx="670" cy="348" r="13"/></g>
<g id="n359"><circle cx="693" cy="375" r="10"/></g>
<g id="n360"><circle cx="703" cy="382" r="10"/></g>
<g id="n361"><circle cx="683" cy="397" r="11"/></g>
<g id="n362"><circle cx="672" cy="390" r="11"/></g>
<g id="n363"><circle cx="672" cy="407" r="10"/></g>
<g id="n364"><circle cx="662" cy="410" r="11"/></g>
<g id="n365"><circle cx="660" cy="430" r="10"/></g>
<g id="n366"><circle cx="637" cy="427" r="11"/></g>
<g id="n367"><circle cx="647" cy="435" r="11"/></g>
<g id="n368"><circle cx="627" cy="457" r="11"/></g>
<g id="n369"><circle cx="610" cy="460" r="11"/></g>
<g id="n370"><circle cx="620" cy="460" r="12"/></g>
<g id="n371"><circle cx="620" cy="440" r="11"/></g>
<g id="n372"><circle cx="622" cy="340" r="12"/></g>
<g id="n373"><circle cx="607" cy="353" r="11"/></g>
<g id="n374"><circle cx="633" cy="357" r="11"/></g>
<g id="n375"><circle cx="627" cy="373" r="11"/></g>
<g id="n376"><circle cx="617" cy="393" r="12"/></g>
<g id="n377"><circle cx="607" cy="407" r="11"/></g>
<g id="n378"><circle cx="553" cy="328" r="10"/></g>
<g id="n379"><circle cx="568" cy="325" r="11"/></g>
<g id="n380"><circle cx="550" cy="358" r="17"/></g>
<g id="n381"><circle cx="577" cy="355" r="14"/></g>
<g id="n382"><circle cx="593" cy="353" r="13"/></g>
<g id="n383"><circle cx="613" cy="363" r="11"/></g>
<g id="n384"><circle cx="573" cy="378" r="15"/></g>
<g id="n385"><circle cx="593" cy="382" r="14"/></g>
<g id="n386"><circle cx="587" cy="397" r="11"/></g>
<g id="n387"><circle cx="603" cy="403" r="12"/></g>
<g id="n388"><circle cx="587" cy="423" r="13"/></g>
<g id="n389"><circle cx="607" cy="443" r="12"/></g>
<g id="n390"><circle cx="618" cy="462" r="12"/></g>
<g id="n391"><circle cx="577" cy="463" r="10"/></g>
<g id="n392"><circle cx="583" cy="475" r="10"/></g>
<g id="n393"><circle cx="593" cy="472" r="11"/></g>
<g id="n394"><circle cx="507" cy="398" r="12"/></g>
<g id="n395"><circle cx="510" cy="413" r="12"/></g>
<g id="n396"><circle cx="522" cy="423" r="11"/></g>
<g id="n397"><circle cx="532" cy="390" r="10"/></g>
<g id="n398"><circle cx="530" cy="405" r="10"/></g>
<g id="n399"><circle cx="538" cy="415" r="10"/></g>
<g id="n400"><circle cx="550" cy="425" r="11"/></g>
<g id="n401"><circle cx="562" cy="437" r="14"/></g>
<g id="n402"><circle cx="647" cy="437" r="11"/></g>
<g id="n403"><circle cx="660" cy="430" r="10"/></g>
</g>
</svg>
